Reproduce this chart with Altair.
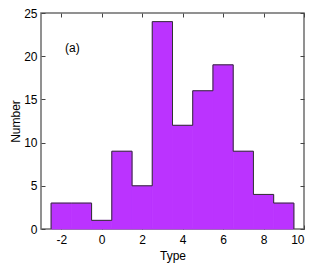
import altair as alt
import pandas as pd

# ---- data ----
types = [-2, -1, 0, 1, 2, 3, 4, 5, 6, 7, 8, 9]          # bin centres (width 1)
counts = [3, 3, 1, 9, 5, 24, 12, 16, 19, 9, 4, 3]
x_ticks = [-2, 0, 2, 4, 6, 8, 10]
y_ticks = [0, 5, 10, 15, 20, 25]
panel_label = ["(a)"]
panel_x = [-1.45]
panel_y = [21]

FILL = "#BB33FF"
EDGE = "#333333"
FRAME = "#6d6d6d"
FONT = "Liberation Sans"

bars_df = pd.DataFrame({
    "left": [t - 0.5 for t in types],
    "right": [t + 0.5 for t in types],
    "count": counts,
})
edges = [t - 0.5 for t in types] + [types[-1] + 0.5]
heights = [0] + counts + [0]
vert_df = pd.DataFrame({
    "x": edges,
    "y1": [min(heights[i], heights[i + 1]) for i in range(len(edges))],
    "y2": [max(heights[i], heights[i + 1]) for i in range(len(edges))],
})
label_df = pd.DataFrame({"x": panel_x, "y": panel_y, "t": panel_label})

xscale = alt.Scale(domain=[-3, 10], nice=False, zero=False)
yscale = alt.Scale(domain=[0, 25], nice=False, zero=False)

common = dict(offset=-4, tickSize=4, domain=False, grid=False, tickColor="#444444",
              tickWidth=1, labelFontSize=12, titleFontSize=12, labelColor="black",
              titleColor="black", titleFontWeight="normal", labelFont=FONT, titleFont=FONT,
              labelExpr="'' + datum.value")

x_bottom = alt.Axis(orient="bottom", values=x_ticks, labelPadding=5, titlePadding=5,
                    title="Type", **common)
y_left = alt.Axis(orient="left", values=y_ticks, labelPadding=4, titlePadding=1,
                  title="Number", **common)
x_top = alt.Axis(orient="top", values=x_ticks, labels=False, title=None, offset=-4,
                 tickSize=4, domain=False, grid=False, tickColor="#444444")
y_right = alt.Axis(orient="right", values=y_ticks, labels=False, title=None, offset=-4,
                   tickSize=4, domain=False, grid=False, tickColor="#444444")

bars = alt.Chart(bars_df).mark_bar(color=FILL, stroke=FILL, strokeWidth=0.8).encode(
    x=alt.X("left:Q", scale=xscale, axis=x_bottom),
    x2="right:Q",
    y=alt.Y("count:Q", scale=yscale, axis=y_left),
    y2=alt.datum(0),
)

mirror = alt.Chart(bars_df).mark_bar(opacity=0).encode(
    x=alt.X("left:Q", scale=xscale, axis=x_top),
    x2="right:Q",
    y=alt.Y("count:Q", scale=yscale, axis=y_right),
    y2=alt.datum(0),
)

tops = alt.Chart(bars_df).mark_rule(color=EDGE, strokeWidth=1).encode(
    x=alt.X("left:Q", scale=xscale, axis=None),
    x2="right:Q",
    y=alt.Y("count:Q", scale=yscale, axis=None),
)

verts = alt.Chart(vert_df).mark_rule(color=EDGE, strokeWidth=1).encode(
    x=alt.X("x:Q", scale=xscale, axis=None),
    y=alt.Y("y1:Q", scale=yscale, axis=None),
    y2="y2:Q",
)

text = alt.Chart(label_df).mark_text(fontSize=12, font=FONT, color="black").encode(
    x=alt.X("x:Q", scale=xscale, axis=None),
    y=alt.Y("y:Q", scale=yscale, axis=None),
    text="t:N",
)

chart = alt.layer(bars, tops, verts, mirror, text).resolve_axis(
    x="independent", y="independent"
).properties(
    width=263, height=216,
    autosize=alt.AutoSizeParams(type="none"),
    padding={"left": 33, "top": 5, "right": 2, "bottom": 34},
).configure_view(stroke=FRAME, strokeWidth=1.5)

chart.save("out.html", embed_options={"renderer": "svg", "actions": False})
